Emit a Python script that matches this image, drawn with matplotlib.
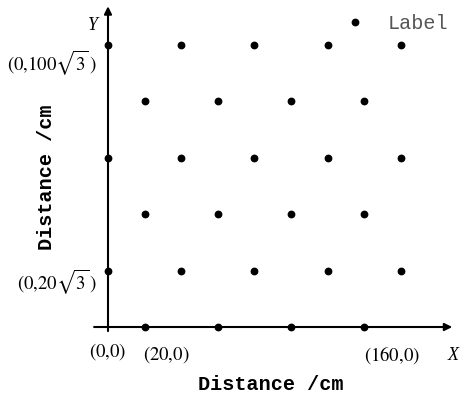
import numpy as np
import matplotlib
matplotlib.use('Agg')
import matplotlib.pyplot as plt

plt.rcParams['mathtext.fontset'] = 'stix'

SQ3 = np.sqrt(3)

# lattice rows (y in cm) and the x positions of the points in each row
row_y = [0, 20 * SQ3, 40 * SQ3, 60 * SQ3, 80 * SQ3, 100 * SQ3]
row_x = [
    [20, 60, 100, 140],
    [0, 40, 80, 120, 160],
    [20, 60, 100, 140],
    [0, 40, 80, 120, 160],
    [20, 60, 100, 140],
    [0, 40, 80, 120, 160],
]

pts_x = [x for xs in row_x for x in xs]
pts_y = [y for xs, y in zip(row_x, row_y) for _ in xs]

W, H = 465, 401
fig = plt.figure(figsize=(W / 100, H / 100), dpi=100)
ax = fig.add_axes([0, 0, 1, 1])
ax.set_xlim(-58.98, 194.97)
ax.set_ylim(-45.45, 200.86)
ax.axis('off')

ax.plot(pts_x, pts_y, 'o', color='black', markersize=4.6, label='Label',
        zorder=3)

# axes with arrow heads
arrow = dict(arrowstyle='-|>', color='black', lw=1.5, mutation_scale=11,
             shrinkA=0, shrinkB=0)
ax.annotate('', xy=(188, 0), xytext=(-7.6, 0), arrowprops=arrow)
ax.annotate('', xy=(0, 197), xytext=(0, -2.5), arrowprops=arrow)


def ptext(px, py, s, **kw):
    fig.text(px / W, 1 - py / H, s, ha='center', va='center', **kw)


serif = dict(family='Liberation Serif', fontsize=13)
ptext(93, 25, 'Y', style='italic', **serif)
ptext(453, 355, 'X', style='italic', **serif)
ptext(52, 63, r'$(0{,}100\sqrt{3}\,)$', fontsize=13.5)
ptext(57, 282, r'$(0{,}20\sqrt{3}\,)$', fontsize=13.5)
ptext(108, 352, r'$(0{,}0)$', fontsize=13.5)
ptext(166, 355, r'$(20{,}0)$', fontsize=13.5)
ptext(392, 355, r'$(160{,}0)$', fontsize=13.5)

mono = dict(family='Liberation Mono', fontsize=14.5, fontweight='bold')
ptext(271, 385, 'Distance /cm', **mono)
ptext(46, 177, 'Distance /cm', rotation=90, **mono)

ax.legend(loc='upper right', bbox_to_anchor=(466 / W, 1 + 4 / H),
          frameon=False, numpoints=1, handlelength=1.0, handletextpad=1.1,
          prop=dict(family='Liberation Mono', size=14.5), labelcolor='#555555')

fig.savefig('out.png', dpi=100)
